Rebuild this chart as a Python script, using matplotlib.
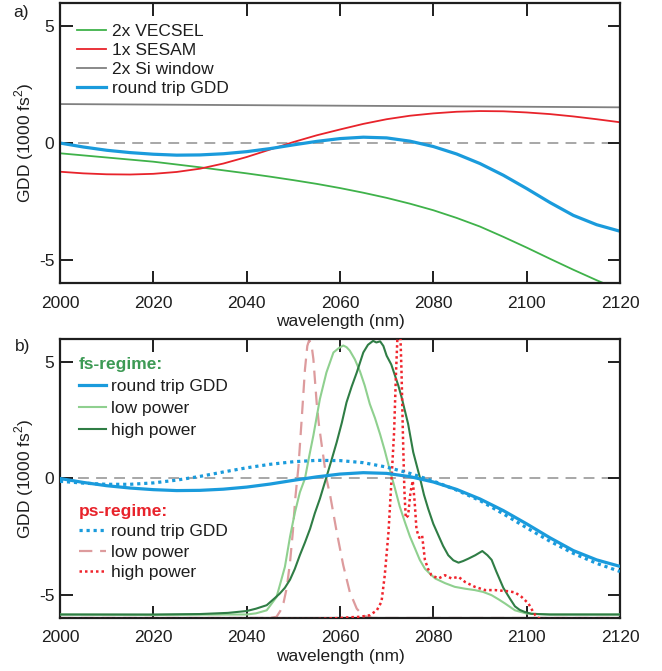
import matplotlib
matplotlib.use("Agg")
import matplotlib.pyplot as plt
import numpy as np

plt.rcParams['font.family'] = ['Liberation Sans', 'DejaVu Sans']
plt.rcParams['mathtext.fontset'] = 'custom'
plt.rcParams['mathtext.rm'] = 'Liberation Sans'
plt.rcParams['axes.unicode_minus'] = False

# ---------------- data ----------------
wl = [2000, 2005, 2010, 2015, 2020, 2025, 2030, 2035, 2040, 2045, 2050, 2055,
      2060, 2065, 2070, 2075, 2080, 2085, 2090, 2095, 2100, 2105, 2110, 2115, 2120]

gdd_vecsel = [-0.44, -0.53, -0.62, -0.71, -0.80, -0.92, -1.04, -1.17, -1.30, -1.44,
              -1.59, -1.75, -1.93, -2.13, -2.35, -2.60, -2.88, -3.21, -3.58, -4.02,
              -4.48, -4.96, -5.43, -5.88, -6.30]
gdd_sesam = [-1.23, -1.30, -1.34, -1.35, -1.32, -1.24, -1.10, -0.88, -0.60, -0.28,
             0.04, 0.33, 0.58, 0.82, 1.02, 1.17, 1.27, 1.34, 1.37, 1.36,
             1.31, 1.24, 1.14, 1.02, 0.89]
wl_si = [2000, 2120]
gdd_si = [1.67, 1.53]
gdd_roundtrip_fs = [0.0, -0.17, -0.31, -0.41, -0.48, -0.52, -0.51, -0.46, -0.37, -0.24,
                    -0.08, 0.07, 0.19, 0.25, 0.22, 0.08, -0.15, -0.47, -0.88, -1.38,
                    -1.95, -2.55, -3.10, -3.50, -3.78]
gdd_roundtrip_ps = [-0.12, -0.20, -0.25, -0.25, -0.19, -0.07, 0.09, 0.28, 0.46, 0.61,
                    0.72, 0.78, 0.77, 0.68, 0.49, 0.22, -0.11, -0.50, -0.95, -1.52,
                    -2.12, -2.70, -3.22, -3.65, -4.00]

# spectra (plotted on GDD axis scale)
wl_fs_low = [2000, 2020, 2035, 2040, 2042, 2044.3, 2046.4, 2047.1, 2048.2, 2049.3,
             2050.3, 2051.4, 2052.5, 2053.4, 2054.3, 2055.7, 2057.1, 2058.6, 2059.7,
             2060.7, 2061.4, 2062.1, 2063.2, 2064.3, 2065.3, 2066.4, 2067.5, 2068.6,
             2069.6, 2070.7, 2071.8, 2072.8, 2073.9, 2075.0, 2076.1, 2077.1, 2078.2,
             2079.3, 2080.4, 2082.5, 2084.6, 2086.8, 2088.9, 2090.7, 2092.5, 2094.0,
             2095.4, 2097.5, 2100, 2105, 2120]
sp_fs_low = [-5.85, -5.87, -5.85, -5.85, -5.8, -5.67, -5.1, -4.6, -3.8, -2.5,
             -1.5, -0.6, 0.0, 0.95, 1.85, 3.42, 4.56, 5.42, 5.6,
             5.72, 5.65, 5.5, 5.12, 4.6, 4.0, 3.2, 2.6, 1.9,
             1.2, 0.35, -0.44, -1.2, -1.87, -2.5, -3.02, -3.5, -3.88,
             -4.1, -4.3, -4.5, -4.66, -4.74, -4.8, -4.88, -5.02, -5.2,
             -5.38, -5.67, -5.81, -5.85, -5.85]

wl_fs_high = [2000, 2020, 2030, 2036, 2040, 2042, 2044.3, 2046, 2047.1, 2048.2,
              2049.3, 2050.3, 2051.4, 2052.5, 2053.6, 2054.6, 2055.7, 2057.1, 2058.2,
              2059.3, 2060.4, 2061.4, 2062.5, 2063.6, 2065, 2066, 2067.1, 2067.8,
              2068.6, 2069.3, 2070, 2071, 2071.8, 2072.5, 2073.2, 2074.6, 2075.7,
              2077.1, 2078, 2078.9, 2080, 2081.1, 2082.1, 2083.2, 2084.3, 2085.4,
              2086.4, 2087.5, 2089, 2090.5, 2091.6, 2092.5, 2093.5, 2095, 2096.4,
              2097.5, 2098.5, 2099.6, 2101, 2105, 2120]
sp_fs_high = [-5.85, -5.85, -5.83, -5.78, -5.7, -5.6, -5.45, -5.15, -4.95, -4.7,
              -4.35, -3.9, -3.3, -2.75, -2.16, -1.5, -0.87, 0.06, 0.8,
              1.56, 2.4, 3.27, 3.95, 4.56, 5.42, 5.75, 5.92, 5.85,
              5.9, 5.7, 5.28, 4.9, 4.42, 4.0, 3.5, 2.35, 1.13,
              0.06, -0.7, -1.3, -1.95, -2.45, -2.9, -3.3, -3.52, -3.62,
              -3.55, -3.45, -3.3, -3.12, -3.3, -3.5, -4.0, -4.7, -5.16,
              -5.5, -5.65, -5.74, -5.82, -5.85, -5.85]

wl_ps_low = [2000, 2045, 2046.4, 2047.2, 2047.9, 2048.6, 2049.3, 2049.9, 2050.4,
             2051.1, 2051.8, 2052.5, 2053.0, 2053.4, 2053.9, 2054.3, 2055.0, 2055.5,
             2056.1, 2057.1, 2057.9, 2059.3, 2060.7, 2062.1, 2063.6, 2065, 2067, 2120]
sp_ps_low = [-6.0, -6.0, -5.95, -5.7, -5.35, -4.7, -3.6, -2.3, -0.9,
             0.5, 2.56, 4.7, 5.7, 5.95, 5.75, 5.14, 3.27, 2.3,
             1.42, 0.0, -0.73, -2.3, -3.73, -4.88, -5.6, -5.9, -6.0, -6.0]

wl_ps_high = [2000, 2055, 2060, 2062, 2064.3, 2066.4, 2067.9, 2068.9, 2069.6, 2070.4,
              2071.0, 2071.6, 2072.0, 2072.4, 2072.9, 2073.2, 2073.5, 2073.8, 2074.1,
              2074.6, 2075.1, 2075.6, 2076.0, 2076.4, 2077.0, 2077.6, 2078.2, 2078.9,
              2079.6, 2081.1, 2082.5, 2083.9, 2085.4, 2086.8, 2088.9, 2091.1, 2093.2,
              2096.1, 2097.5, 2098.9, 2100.4, 2101.4, 2102.1, 2103, 2120]
sp_ps_high = [-6.05, -6.05, -6.0, -5.97, -5.95, -5.88, -5.67, -5.3, -4.16, -2.3,
              -0.2, 2.0, 4.5, 6.5, 6.5, 4.5, 1.8, -0.5, -1.7,
              -1.6, -0.6, -0.1, -1.0, -2.2, -2.55, -2.45, -3.5, -3.9,
              -4.16, -4.3, -4.16, -4.3, -4.23, -4.45, -4.66, -4.8, -4.8,
              -4.85, -4.9, -5.09, -5.38, -5.74, -5.95, -6.05, -6.05]

xticks = [2000, 2020, 2040, 2060, 2080, 2100, 2120]
yticks = [-5, 0, 5]

# ---------------- styles ----------------
C_BLUE = '#1a9bdc'
C_GREEN = '#3fb24a'
C_RED = '#e8232b'
C_GREY = '#808080'
C_LGREEN = '#8fd08f'
C_DGREEN = '#2f7d45'
C_PINK = '#dd9b9d'
C_RED2 = '#f0242c'
C_TXT = '#1e1e1e'
FS = 12.5

fig = plt.figure(figsize=(6.62, 6.71), dpi=100)
ax1 = fig.add_axes([0.0906, 0.5782, 0.8459, 0.4173])
ax2 = fig.add_axes([0.0906, 0.0790, 0.8459, 0.4158])


def style_axes(ax):
    ax.set_xlim(2000, 2120)
    ax.set_ylim(-6, 6)
    ax.set_xticks(xticks)
    ax.set_yticks(yticks)
    ax.tick_params(direction='in', length=9, width=1.4, top=True, right=True,
                   labelsize=FS, colors=C_TXT)
    ax.tick_params(axis='x', pad=9)
    ax.tick_params(axis='y', pad=4)
    for s in ax.spines.values():
        s.set_linewidth(1.6)
        s.set_color(C_TXT)
    ax.axhline(0, color='#a0a0a0', lw=1.3, ls=(0, (6, 4)), zorder=1)
    ax.set_xlabel('wavelength (nm)', fontsize=FS, color=C_TXT)
    ax.set_ylabel('GDD (1000 fs$^2$)', fontsize=FS, color=C_TXT)
    ax.xaxis.set_label_coords(0.5, -0.11)
    ax.yaxis.set_label_coords(-0.043, 0.5)


style_axes(ax1)
style_axes(ax2)

# panel a
l1, = ax1.plot(wl, gdd_vecsel, color=C_GREEN, lw=1.3, label='2x VECSEL')
l2, = ax1.plot(wl, gdd_sesam, color=C_RED, lw=1.3, label='1x SESAM')
l3, = ax1.plot(wl_si, gdd_si, color=C_GREY, lw=1.3, label='2x Si window')
l4, = ax1.plot(wl, gdd_roundtrip_fs, color=C_BLUE, lw=2.3, label='round trip GDD')
leg1 = ax1.legend(handles=[l1, l2, l3, l4], loc='upper left', frameon=False,
                  fontsize=FS, bbox_to_anchor=(0.0146, 0.957), borderpad=0,
                  labelspacing=0.22, handlelength=1.7, handletextpad=0.3)
for t in leg1.get_texts():
    t.set_color(C_TXT)
fig.text(0.020, 0.981, 'a)', fontsize=FS, color=C_TXT, va='center')

# panel b
b1, = ax2.plot(wl, gdd_roundtrip_fs, color=C_BLUE, lw=2.3, label='round trip GDD', zorder=4)
b2, = ax2.plot(wl_fs_low, sp_fs_low, color=C_LGREEN, lw=1.5, label='low power', zorder=3)
b3, = ax2.plot(wl_fs_high, sp_fs_high, color=C_DGREEN, lw=1.5, label='high power', zorder=3)
b4, = ax2.plot(wl, gdd_roundtrip_ps, color=C_BLUE, lw=2.3, ls=(0, (1, 1.2)),
               label='round trip GDD', zorder=4)
b5, = ax2.plot(wl_ps_low, sp_ps_low, color=C_PINK, lw=1.6, ls=(0, (6, 3.5)),
               label='low power', zorder=2)
b6, = ax2.plot(wl_ps_high, sp_ps_high, color=C_RED2, lw=1.8, ls=(0, (1, 1.2)),
               label='high power', zorder=3)

legf = ax2.legend(handles=[b1, b2, b3], loc='upper left', frameon=False,
                  fontsize=FS, bbox_to_anchor=(0.018, 0.9665), borderpad=0,
                  labelspacing=0.39, handlelength=1.55, handletextpad=0.3,
                  title='fs-regime:', alignment='left',
                  title_fontproperties={'weight': 'bold', 'size': FS})
legf.get_title().set_color('#3d9a55')
ax2.add_artist(legf)
legp = ax2.legend(handles=[b4, b5, b6], loc='upper left', frameon=False,
                  fontsize=FS, bbox_to_anchor=(0.018, 0.44), borderpad=0,
                  labelspacing=0.3, handlelength=1.55, handletextpad=0.3,
                  title='ps-regime:', alignment='left',
                  title_fontproperties={'weight': 'bold', 'size': FS})
legp.get_title().set_color(C_RED)
for lg in (legf, legp):
    for t in lg.get_texts():
        t.set_color(C_TXT)
fig.text(0.023, 0.483, 'b)', fontsize=FS, color=C_TXT, va='center')

fig.savefig('out.png', dpi=100)
